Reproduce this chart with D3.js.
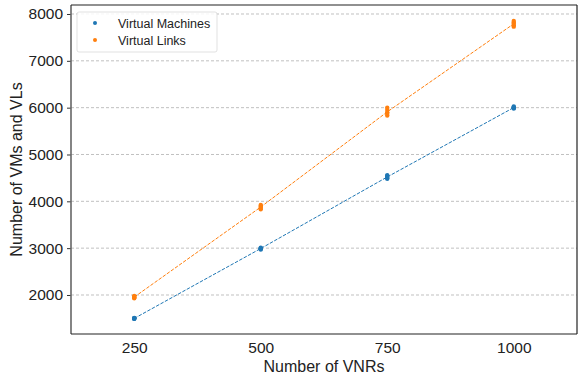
<!DOCTYPE html>
<html>
<head>
<meta charset="utf-8">
<script src="https://cdn.jsdelivr.net/npm/d3@7"></script>
<style>
  body { margin: 0; background: #fff; }
  text { font-family: "Liberation Sans", Arial, sans-serif; fill: #222; }
</style>
</head>
<body>
<svg id="chart" width="578" height="378"></svg>
<script>
// number of VNRs (x)
const vnrs = [250, 500, 750, 1000];
// several runs per x value
const vmRuns = [
  [1490, 1495, 1500, 1505, 1510],
  [2970, 2985, 2995, 3000, 3010],
  [4480, 4500, 4520, 4540, 4560],
  [5980, 5995, 6000, 6010, 6025]
];
const vlRuns = [
  [1930, 1945, 1955, 1965, 1980],
  [3830, 3860, 3880, 3900, 3920],
  [5830, 5870, 5900, 5950, 6000],
  [7730, 7760, 7790, 7820, 7850]
];
const yTicks = [2000, 3000, 4000, 5000, 6000, 7000, 8000];
const series = [
  { name: "Virtual Machines", color: "#1f77b4", runs: vmRuns },
  { name: "Virtual Links", color: "#ff7f0e", runs: vlRuns }
];

const svg = d3.select("#chart");
const m = { left: 71, right: 577, top: 5, bottom: 334 };

const x = d3.scaleLinear().domain([125, 1125]).range([m.left, m.right]);
const y = d3.scaleLinear().domain([1167, 8192]).range([m.bottom, m.top]);

// grid
svg.append("g").selectAll("line").data(yTicks).enter().append("line")
  .attr("x1", m.left).attr("x2", m.right)
  .attr("y1", d => y(d)).attr("y2", d => y(d))
  .attr("stroke", "#b0b0b0").attr("stroke-width", 0.8)
  .attr("stroke-dasharray", "3,2");

// y axis ticks
const yAxis = svg.append("g").attr("transform", `translate(${m.left},0)`)
  .call(d3.axisLeft(y).tickValues(yTicks).tickSize(4).tickPadding(4).tickFormat(d3.format("d")));
yAxis.select(".domain").remove();
yAxis.selectAll("line").attr("stroke", "#333");
yAxis.selectAll("text").style("font-size", "15.5px").attr("fill", "#222");

// x axis ticks
const xAxis = svg.append("g").attr("transform", `translate(0,${m.bottom})`)
  .call(d3.axisBottom(x).tickValues(vnrs).tickSize(0).tickPadding(8).tickFormat(d3.format("d")));
xAxis.select(".domain").remove();
xAxis.selectAll("text").style("font-size", "15.5px").attr("fill", "#222");

// lines and points
series.forEach(s => {
  const means = s.runs.map((r, i) => ({ x: vnrs[i], y: d3.mean(r) }));
  svg.append("path").datum(means)
    .attr("fill", "none").attr("stroke", s.color).attr("stroke-width", 1)
    .attr("stroke-dasharray", "3.5,1.5")
    .attr("d", d3.line().x(d => x(d.x)).y(d => y(d.y)));
  const pts = [];
  s.runs.forEach((r, i) => r.forEach(v => pts.push({ x: vnrs[i], y: v })));
  svg.append("g").selectAll("circle").data(pts).enter().append("circle")
    .attr("cx", d => x(d.x)).attr("cy", d => y(d.y)).attr("r", 2.2)
    .attr("fill", s.color);
});

// spines
svg.append("line").attr("x1", m.left).attr("x2", m.left).attr("y1", m.top).attr("y2", m.bottom)
  .attr("stroke", "#666").attr("stroke-width", 1.6);
svg.append("line").attr("x1", m.left).attr("x2", m.right).attr("y1", m.bottom).attr("y2", m.bottom)
  .attr("stroke", "#222").attr("stroke-width", 1.2);
svg.append("line").attr("x1", m.left).attr("x2", m.right).attr("y1", m.top).attr("y2", m.top)
  .attr("stroke", "#222").attr("stroke-width", 1.2);
svg.append("line").attr("x1", m.right).attr("x2", m.right).attr("y1", m.top).attr("y2", m.bottom)
  .attr("stroke", "#222").attr("stroke-width", 1.2);

// axis labels
svg.append("text").attr("x", (m.left + m.right) / 2).attr("y", 372)
  .attr("text-anchor", "middle").style("font-size", "16px").text("Number of VNRs");
svg.append("text").attr("transform", `translate(22,${(m.top + m.bottom) / 2}) rotate(-90)`)
  .attr("text-anchor", "middle").style("font-size", "16px").text("Number of VMs and VLs");

// legend
const lg = svg.append("g");
lg.append("rect").attr("x", 77).attr("y", 12).attr("width", 140).attr("height", 40)
  .attr("rx", 2).attr("fill", "#fff").attr("fill-opacity", 0.85)
  .attr("stroke", "#d9d9d9").attr("stroke-width", 0.8);
series.forEach((s, i) => {
  const cy = 23 + i * 17;
  lg.append("circle").attr("cx", 95).attr("cy", cy).attr("r", 2).attr("fill", s.color);
  lg.append("text").attr("x", 118).attr("y", cy + 4.5).style("font-size", "12.5px").text(s.name);
});
</script>
</body>
</html>
